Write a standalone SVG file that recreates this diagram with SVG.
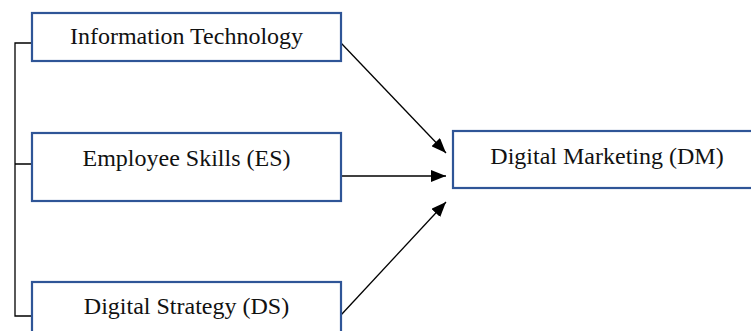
<svg xmlns="http://www.w3.org/2000/svg" width="751" height="331" viewBox="0 0 751 331">
<style>
.box{fill:#fff;stroke:#2F5597;stroke-width:2.2}
.lbl{font-family:"Liberation Serif","Times New Roman",serif;font-size:24px;fill:#111;text-anchor:middle}
.ln{stroke:#000;stroke-width:1.3;fill:none}
</style>
<defs>
<marker id="ah" markerWidth="15" markerHeight="12" refX="15" refY="6" orient="auto" markerUnits="userSpaceOnUse">
<path d="M0,0 L15,6 L0,12 Z" fill="#000"/>
</marker>
</defs>
<rect width="751" height="331" fill="#fff"/>
<g id="connectors">
<path class="ln" d="M32,43 H15 V316 H32 M15,164 H32"/>
<line class="ln" x1="341" y1="43" x2="446" y2="153" marker-end="url(#ah)"/>
<line class="ln" x1="341" y1="176" x2="446" y2="176" marker-end="url(#ah)"/>
<line class="ln" x1="341" y1="315" x2="446" y2="202" marker-end="url(#ah)"/>
</g>
<g id="it">
<rect class="box" x="32" y="13" width="309" height="48"/>
<text class="lbl" x="186.5" y="44">Information Technology</text>
</g>
<g id="es">
<rect class="box" x="32" y="133" width="309" height="68"/>
<text class="lbl" x="186.5" y="166">Employee Skills (ES)</text>
</g>
<g id="ds">
<rect class="box" x="32" y="282" width="309" height="68"/>
<text class="lbl" x="186.5" y="314">Digital Strategy (DS)</text>
</g>
<g id="dm">
<rect class="box" x="453" y="131" width="309" height="57"/>
<text class="lbl" x="607" y="164">Digital Marketing (DM)</text>
</g>
</svg>
